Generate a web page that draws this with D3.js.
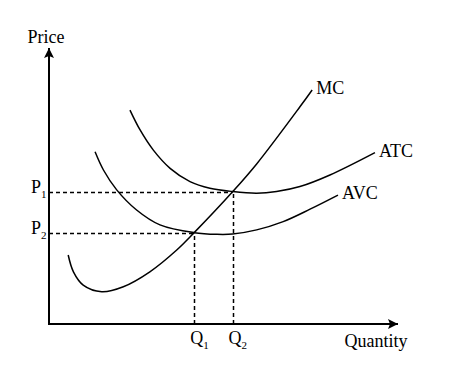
<!DOCTYPE html>
<html>
<head>
<meta charset="utf-8">
<script src="https://cdn.jsdelivr.net/npm/d3@7"></script>
<style>
  body { margin: 0; background: #fff; }
  text { font-family: "Liberation Serif", "Times New Roman", serif; fill: #000; }
</style>
</head>
<body>
<script>
//-------------------------------------data----------------------------------------

// quantity / price on a 0..100 scale
var mcPoints = [[5.5,25.0],[7.0,18.9],[9.8,14.1],[15.1,11.7],[21.3,13.5],[28.9,18.9],
  [36.6,26.8],[41.6,33.1],[52.6,47.9],[59.5,58.0],[71.9,78.7],[75.4,84.8]];
var avcPoints = [[13.2,62.4],[15.6,55.8],[19.4,48.6],[25.1,41.3],[31.8,35.9],[41.6,33.1],
  [48.1,32.5],[52.6,32.6],[59.5,34.1],[67.1,37.1],[74.8,41.6],[82.8,46.7]];
var atcPoints = [[23.2,77.5],[26.1,70.3],[29.9,63.0],[34.7,56.4],[40.4,51.6],[46.1,49.2],
  [52.6,48.0],[59.5,47.4],[65.2,48.0],[71.9,49.8],[80.5,54.0],[93.4,62.1]];

var curveNames = ["MC", "ATC", "AVC"];
var qLevels = [41.6, 52.6];   // Q1, Q2
var pLevels = [47.9, 33.1];   // P1, P2
var levelSubs = ["1", "2"];

//-------------------------------------svg-----------------------------------------

var svg = d3.select("body")
    .append("svg")
    .attr("width", 450)
    .attr("height", 370);

var x = d3.scaleLinear().domain([0, 100]).range([49, 398]);
var y = d3.scaleLinear().domain([0, 100]).range([324, 48]);

var defs = svg.append("defs");
defs.append("marker")
    .attr("id", "arrow")
    .attr("viewBox", "0 0 10 10")
    .attr("refX", 10).attr("refY", 5)
    .attr("markerWidth", 10).attr("markerHeight", 10)
    .attr("markerUnits", "userSpaceOnUse")
    .attr("orient", "auto")
  .append("path")
    .attr("d", "M0,0 L10,5 L0,10 L2,5 Z")
    .attr("fill", "#000");

//-------------------------------------dashed guides-------------------------------

svg.selectAll(".hguide")
    .data(pLevels)
    .enter().append("line")
    .attr("x1", x(0)).attr("x2", function(d, i) { return x(qLevels[1 - i]); })
    .attr("y1", function(d) { return Math.round(y(d)) + 0.5; })
    .attr("y2", function(d) { return Math.round(y(d)) + 0.5; })
    .attr("stroke", "#000").attr("stroke-width", 1.5)
    .attr("stroke-dasharray", "4,3");

svg.selectAll(".vguide")
    .data(qLevels)
    .enter().append("line")
    .attr("x1", function(d) { return Math.round(x(d)) + 0.5; })
    .attr("x2", function(d) { return Math.round(x(d)) + 0.5; })
    .attr("y1", y(0)).attr("y2", function(d, i) { return y(pLevels[1 - i]); })
    .attr("stroke", "#000").attr("stroke-width", 1.5)
    .attr("stroke-dasharray", "4,3");

//-------------------------------------axes----------------------------------------

svg.append("line")
    .attr("x1", x(0)).attr("y1", y(0) + 1)
    .attr("x2", x(0)).attr("y2", y(100))
    .attr("stroke", "#000").attr("stroke-width", 2)
    .attr("marker-end", "url(#arrow)");

svg.append("line")
    .attr("x1", x(0) - 1).attr("y1", y(0))
    .attr("x2", x(100)).attr("y2", y(0))
    .attr("stroke", "#000").attr("stroke-width", 2)
    .attr("marker-end", "url(#arrow)");

svg.append("text")
    .attr("x", x(0) - 3).attr("y", 43)
    .attr("text-anchor", "middle")
    .style("font-size", "18px")
    .text("Price");

svg.append("text")
    .attr("x", 376).attr("y", 347)
    .attr("text-anchor", "middle")
    .style("font-size", "18px")
    .text("Quantity");

//-------------------------------------curves--------------------------------------

var line = d3.line()
    .x(function(d) { return x(d[0]); })
    .y(function(d) { return y(d[1]); })
    .curve(d3.curveCatmullRom.alpha(0.5));

var curves = [mcPoints, atcPoints, avcPoints];

svg.append("g")
    .selectAll("path")
    .data(curves)
    .enter().append("path")
    .attr("d", line)
    .attr("fill", "none")
    .attr("stroke", "#000")
    .attr("stroke-width", 1.5);

svg.append("g")
    .selectAll("text")
    .data(curves)
    .enter().append("text")
    .attr("x", function(d) { return x(d[d.length - 1][0]) + 4; })
    .attr("y", function(d) { return y(d[d.length - 1][1]) + 4; })
    .style("font-size", "18px")
    .text(function(d, i) { return curveNames[i]; });

//-------------------------------------level labels--------------------------------

var pl = svg.append("g")
    .selectAll("text")
    .data(pLevels)
    .enter().append("text")
    .attr("x", 31)
    .attr("y", function(d) { return y(d) + 1; })
    .style("font-size", "18px");
pl.append("tspan").text("P");
pl.append("tspan")
    .attr("dy", 5)
    .style("font-size", "11px")
    .text(function(d, i) { return levelSubs[i]; });

var ql = svg.append("g")
    .selectAll("text")
    .data(qLevels)
    .enter().append("text")
    .attr("x", function(d) { return x(d) - 4; })
    .attr("y", 344)
    .style("font-size", "18px");
ql.append("tspan").text("Q");
ql.append("tspan")
    .attr("dy", 5)
    .style("font-size", "11px")
    .text(function(d, i) { return levelSubs[i]; });
</script>
</body>
</html>
